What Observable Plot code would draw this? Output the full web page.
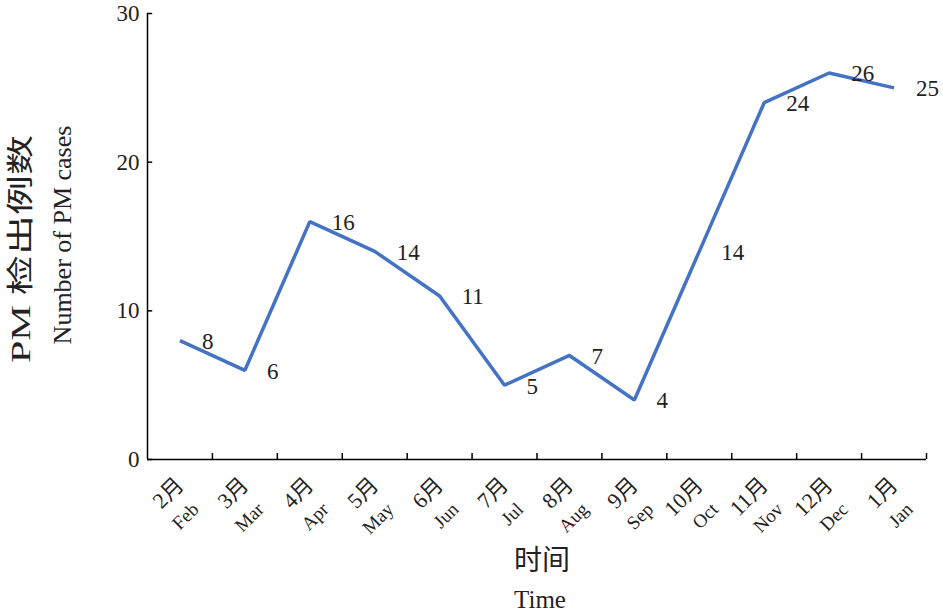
<!DOCTYPE html>
<html>
<head>
<meta charset="utf-8">
<script src="https://cdn.jsdelivr.net/npm/d3@7"></script>
<script src="https://cdn.jsdelivr.net/npm/@observablehq/plot@0.6"></script>
<style>
  html, body { margin: 0; padding: 0; background: #fff; }
  #chart svg { display: block; }
</style>
</head>
<body>
<div id="chart"></div>
<script>
const monthsCn = ["2月","3月","4月","5月","6月","7月","8月","9月","10月","11月","12月","1月"];
const monthsEn = ["Feb","Mar","Apr","May","Jun","Jul","Aug","Sep","Oct","Nov","Dec","Jan"];
const cases = [8, 6, 16, 14, 11, 5, 7, 4, 14, 24, 26, 25];
const yTicks = [0, 10, 20, 30];

const data = monthsCn.map((m, i) => ({i, pos: i + 0.5, cn: m, en: monthsEn[i], v: cases[i]}));
const boundaries = d3.range(1, monthsCn.length + 1);

const serif = "'Liberation Serif', 'Times New Roman', 'Noto Sans CJK SC', serif";

const chart = Plot.plot({
  width: 943,
  height: 614,
  marginLeft: 147,
  marginRight: 17,
  marginTop: 13,
  marginBottom: 155,
  x: {domain: [0, monthsCn.length], axis: null},
  y: {domain: [0, 30], axis: null},
  style: {fontFamily: serif, background: "#fff"},
  marks: [
    Plot.ruleX([0], {y1: 0, y2: 30, stroke: "#000", strokeWidth: 1.5}),
    Plot.ruleY([0], {x1: 0, x2: monthsCn.length, stroke: "#000", strokeWidth: 1.5}),
    Plot.ruleY(yTicks, {y: d => d, x1: 0, x2: 0.08, stroke: "#000", strokeWidth: 1.5}),
    Plot.ruleX(boundaries, {x: d => d, y1: 0, y2: 0.4, stroke: "#000", strokeWidth: 1.5}),
    Plot.text(yTicks, {x: 0, y: d => d, text: d => String(d), dx: -8, textAnchor: "end", fontSize: 23, fill: "#222"}),
    Plot.line(data, {x: "pos", y: "v", stroke: "#4472C4", strokeWidth: 3.5, strokeLinejoin: "miter", strokeLinecap: "butt"}),
    Plot.text(data, {x: "pos", y: "v", text: d => String(d.v), dx: 22, dy: 1, textAnchor: "start", fontSize: 23, fill: "#222"}),
    Plot.text(data, {x: "pos", y: 0, text: "cn", rotate: -45, textAnchor: "end", lineAnchor: "bottom", dx: 5, dy: 27, fontSize: 22, fill: "#222"}),
    Plot.text(data, {x: "pos", y: 0, text: "en", rotate: -45, textAnchor: "end", lineAnchor: "bottom", dx: 20, dy: 51, fontSize: 19, fill: "#222"})
  ]
});

document.getElementById("chart").appendChild(chart);

const svg = d3.select(chart);
svg.append("text")
  .attr("transform", "translate(30,249) rotate(-90)")
  .attr("text-anchor", "middle")
  .attr("font-family", serif)
  .attr("font-size", 27)
  .attr("fill", "#222")
  .attr("textLength", 228)
  .attr("lengthAdjust", "spacingAndGlyphs")
  .text("PM 检出例数");
svg.append("text")
  .attr("transform", "translate(71,235) rotate(-90)")
  .attr("text-anchor", "middle")
  .attr("font-family", serif)
  .attr("font-size", 26)
  .attr("fill", "#222")
  .text("Number of PM cases");
svg.append("text")
  .attr("x", 542)
  .attr("y", 570)
  .attr("text-anchor", "middle")
  .attr("font-family", serif)
  .attr("font-size", 28)
  .attr("fill", "#222")
  .text("时间");
svg.append("text")
  .attr("x", 540)
  .attr("y", 608)
  .attr("text-anchor", "middle")
  .attr("font-family", serif)
  .attr("font-size", 25)
  .attr("fill", "#222")
  .text("Time");
</script>
</body>
</html>
